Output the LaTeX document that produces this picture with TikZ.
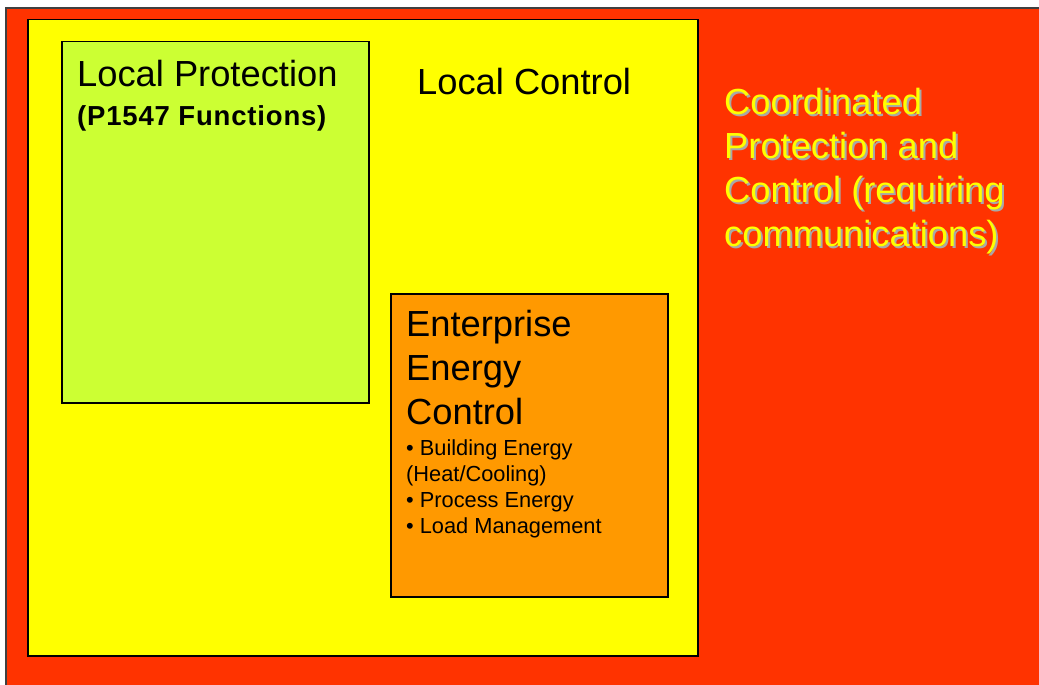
\documentclass[tikz,border=0pt]{standalone}
\usepackage{fontspec}
\setmainfont{Liberation Sans}
\newfontfamily\boldspaced[LetterSpace=3]{Liberation Sans Bold}
\definecolor{redbg}{HTML}{FF3300}
\definecolor{yellowbg}{HTML}{FFFF00}
\definecolor{greenbg}{HTML}{CCFF33}
\definecolor{orangebg}{HTML}{FF9900}
\definecolor{shadowgray}{HTML}{A8A8A8}
\tikzset{
  panel/.style={draw=black, line width=1.2pt},
  bigtxt/.style={anchor=base west, inner sep=0pt, font=\fontsize{36.3}{44}\selectfont},
  smalltxt/.style={anchor=base west, inner sep=0pt, font=\fontsize{21.8}{26}\selectfont},
  boldtxt/.style={anchor=base west, inner sep=0pt, font=\fontsize{27.5}{30}\boldspaced},
  glowtxt/.style={bigtxt, text=yellowbg},
  shadowtxt/.style={bigtxt, text=shadowgray},
}
\begin{document}
\begin{tikzpicture}[x=1pt,y=-1pt]
\useasboundingbox (0,0) rectangle (1039,685);
\clip (0,0) rectangle (1039,685);
\fill[white] (0,0) rectangle (1039,685);
% outer red
\draw[fill=redbg, draw=black!75, line width=1.6pt] (6,8) rectangle (1050,700);
% yellow
\draw[panel, fill=yellowbg] (28,19.5) rectangle (698,656);
% green
\draw[panel, fill=greenbg] (62,41.5) rectangle (369,403);
% orange
\draw[panel, fill=orangebg] (391,294) rectangle (668,597);

% Local protection
\node[bigtxt] (lp1) at (77,87) {Local Protection};
\node[boldtxt] (lp2) at (77,125) {(P1547 Functions)};
% Local control
\node[bigtxt] (lc) at (417,94) {Local Control};

% Enterprise
\node[bigtxt] (ee1) at (406,336) {Enterprise};
\node[bigtxt] (ee2) at (406,380) {Energy};
\node[bigtxt] (ee3) at (406,424) {Control};
\node[smalltxt] (b1) at (406,455) {• Building Energy};
\node[smalltxt] (b2) at (406,481) {(Heat/Cooling)};
\node[smalltxt] (b3) at (406,507) {• Process Energy};
\node[smalltxt] (b4) at (406,533) {• Load Management};

% Coordinated (shadow then text)
\node[shadowtxt] (s1) at (726,116) {Coordinated};
\node[shadowtxt] (s2) at (726,160) {Protection and};
\node[shadowtxt] (s3) at (726,204) {Control (requiring};
\node[shadowtxt] (s4) at (726,248) {communications)};
\node[glowtxt] (c1) at (724,114) {Coordinated};
\node[glowtxt] (c2) at (724,158) {Protection and};
\node[glowtxt] (c3) at (724,202) {Control (requiring};
\node[glowtxt] (c4) at (724,246) {communications)};
\end{tikzpicture}
\end{document}
